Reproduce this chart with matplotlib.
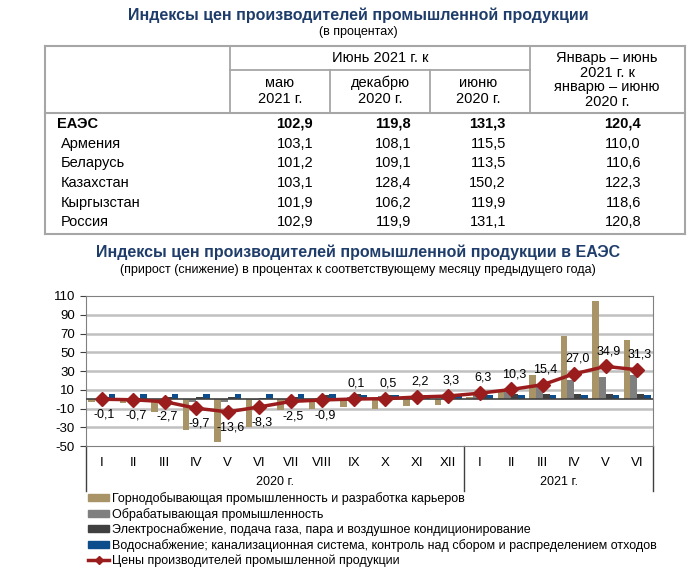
import matplotlib
matplotlib.use("Agg")
import matplotlib.pyplot as plt
from matplotlib.lines import Line2D
from matplotlib.patches import Patch
import numpy as np

plt.rcParams['font.family'] = ['Liberation Sans', 'DejaVu Sans']
plt.rcParams['axes.unicode_minus'] = False

# Таблица
pays = ["ЕАЭС", "Армения", "Беларусь", "Казахстан", "Кыргызстан", "Россия"]
col_mai_2021 = ["102,9", "103,1", "101,2", "103,1", "101,9", "102,9"]
col_dec_2020 = ["119,8", "108,1", "109,1", "128,4", "106,2", "119,9"]
col_juin_2020 = ["131,3", "115,5", "113,5", "150,2", "119,9", "131,1"]
col_jan_juin = ["120,4", "110,0", "110,6", "122,3", "118,6", "120,8"]

# Graphique
mois = ["I", "II", "III", "IV", "V", "VI", "VII", "VIII", "IX", "X", "XI", "XII",
        "I", "II", "III", "IV", "V", "VI"]
mines = [-3, -4, -14, -33, -46, -30, -12, -10, -8, -10, -7, -6,
         2, 8, 26, 67, 105, 63]
manuf = [-1, -1, -1, -3, -3, -1, -1, 1, 2, 3, 3, 4,
         6, 8, 13, 20, 24, 26]
electr = [2, 1, 2, 2, 2, 1, 2, 4, 6, 4, 3, 3,
          4, 5, 5, 5, 5, 5]
eau = [6, 6, 6, 6, 6, 6, 5, 5, 4, 4, 4, 3,
       4, 4, 4, 4, 4, 4]
prix = [-0.1, -0.7, -2.7, -9.7, -13.6, -8.3, -2.5, -0.9, 0.1, 0.5, 2.2, 3.3,
        6.3, 10.3, 15.4, 27.0, 34.9, 31.3]
annees = ["2020 г.", "2021 г."]

W, H = 700, 577
fig = plt.figure(figsize=(W / 100, H / 100), dpi=100)
bleu = "#1f3d6b"
gris = "#a6a6a6"


def fx(x):
    return x / W


def fy(y):
    return 1 - y / H


def ligne(x0, y0, x1, y1, c=gris, lw=1.3):
    fig.add_artist(Line2D([fx(x0), fx(x1)], [fy(y0), fy(y1)], color=c, lw=lw))


# titre du tableau
fig.text(fx(358), fy(15), "Индексы цен производителей промышленной продукции",
         ha="center", va="center", fontsize=11.5, fontweight="bold", color=bleu)
fig.text(fx(358), fy(32), "(в процентах)", ha="center", va="center", fontsize=9)

# cadre du tableau
ligne(45, 46, 685, 46, lw=1.5)
ligne(45, 113, 685, 113, lw=1.5)
ligne(45, 234, 685, 234, lw=1.5)
ligne(45, 46, 45, 234, lw=1.5)
ligne(685, 46, 685, 234, lw=1.5)
ligne(230, 46, 230, 113)
ligne(530, 46, 530, 113)
ligne(230, 70, 530, 70)
ligne(330, 70, 330, 113)
ligne(430, 70, 430, 113)

fs = 10.5
fig.text(fx(380), fy(58), "Июнь 2021 г. к", ha="center", va="center", fontsize=fs)
entetes = [(280, "маю\n2021 г."), (380, "декабрю\n2020 г."), (478, "июню\n2020 г.")]
for x, t in entetes:
    fig.text(fx(x), fy(91), t, ha="center", va="center", fontsize=fs, linespacing=1.2)
fig.text(fx(607), fy(80), "Январь – июнь\n2021 г. к\nянварю – июню\n2020 г.",
         ha="center", va="center", fontsize=fs, linespacing=1.05)

lignes_y = [124, 144, 163, 183, 203, 222]
for i, p in enumerate(pays):
    gras = "bold" if i == 0 else "normal"
    x0 = 57 if i == 0 else 61
    y = lignes_y[i]
    fig.text(fx(x0), fy(y), p, ha="left", va="center", fontsize=fs, fontweight=gras)
    for xr, col in zip([313, 411, 506, 641],
                       [col_mai_2021, col_dec_2020, col_juin_2020, col_jan_juin]):
        fig.text(fx(xr), fy(y), col[i], ha="right", va="center", fontsize=fs,
                 fontweight=gras)

# titre du graphique
fig.text(fx(358), fy(252), "Индексы цен производителей промышленной продукции в ЕАЭС",
         ha="center", va="center", fontsize=11.5, fontweight="bold", color=bleu)
fig.text(fx(358), fy(270),
         "(прирост (снижение) в процентах к соответствующему месяцу предыдущего года)",
         ha="center", va="center", fontsize=9)

# axes
ax = fig.add_axes([fx(86), fy(446), (653 - 86) / W, (446 - 296) / H])
x = np.arange(len(mois))
lb = 0.215
couleurs = ["#a89467", "#7f7f7f", "#404040", "#0e4d8c"]
noms = ["Горнодобывающая промышленность и разработка карьеров",
        "Обрабатывающая промышленность",
        "Электроснабжение, подача газа, пара и воздушное кондиционирование",
        "Водоснабжение; канализационная система, контроль над сбором и распределением отходов"]
for k, (serie, c) in enumerate(zip([mines, manuf, electr, eau], couleurs)):
    ax.bar(x + (k - 1.5) * lb, serie, width=lb, color=c, zorder=2)

ax.plot(x, prix, color="#9b1c1c", lw=2.5, marker="D", markersize=7, zorder=4)
for xi, v in zip(x, prix):
    txt = f"{v:.1f}".replace(".", ",")
    off = 11 if v > 0 else -11
    ax.annotate(txt, (xi, v), xytext=(2, off), textcoords="offset points",
                ha="center", va="center", fontsize=9, zorder=5)

ax.set_ylim(-50, 110)
ax.set_xlim(-0.5, len(mois) - 0.5)
ax.set_yticks(range(-50, 111, 20))
ax.tick_params(axis="y", labelsize=9.5, length=4, color="#404040", pad=4)
ax.set_xticks(x)
ax.set_xticklabels(mois, fontsize=9.5)
ax.tick_params(axis="x", length=0, pad=8)
for yg in range(-30, 110, 20):
    ax.axhline(yg, color="#c0c0c0", lw=1.8, zorder=1)
ax.axhline(0, color="#404040", lw=1.2, zorder=3)
for s in ax.spines.values():
    s.set_color("#808080")

# séparateurs des années
tr = ax.get_xaxis_transform()
for xs in [-0.5, 11.5, len(mois) - 0.5]:
    ax.add_artist(Line2D([xs, xs], [0, -0.3], transform=tr, color="#404040",
                         lw=1, clip_on=False))
ax.text(5.5, -0.24, annees[0], transform=tr, ha="center", va="center", fontsize=9)
ax.text(14.5, -0.24, annees[1], transform=tr, ha="center", va="center", fontsize=9)

# légende
poignees = [Patch(color=c) for c in couleurs]
poignees.append(Line2D([], [], color="#9b1c1c", lw=2.5, marker="D", markersize=4))
fig.legend(poignees, noms + ["Цены производителей промышленной продукции"],
           loc="upper left", bbox_to_anchor=(fx(88), fy(492)), frameon=False,
           fontsize=9, handlelength=1.7, handleheight=0.5, handletextpad=0.2,
           labelspacing=0.22, borderaxespad=0, borderpad=0)

fig.savefig("out.png", dpi=100)
